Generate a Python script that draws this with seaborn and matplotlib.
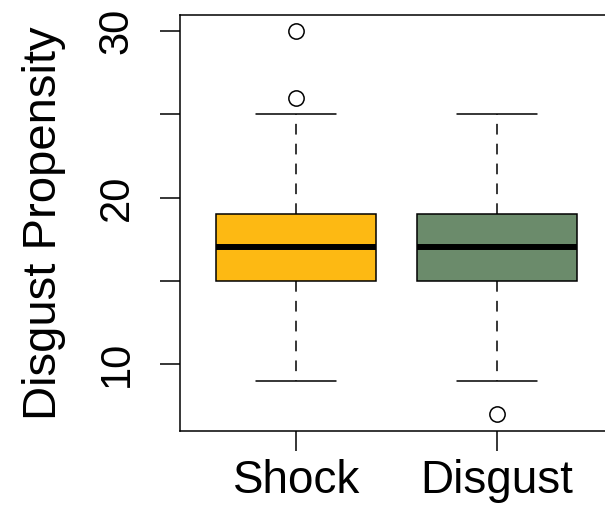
import pandas as pd
import numpy as np
import matplotlib.pyplot as plt
import seaborn as sns

# values (quartiles 15 / 17 / 19, whiskers 9-25)
groups = ["Shock", "Disgust"]
shock_scores = [9, 12, 14, 15, 15, 16, 16, 17, 17, 18, 18, 19, 19, 21, 25, 26, 30]
disgust_scores = [7, 9, 13, 15, 15, 16, 16, 17, 17, 17, 18, 18, 19, 20, 22, 24, 25]
box_colors = ["#FDB913", "#6B8B6B"]
y_ticks = [10, 15, 20, 25, 30]
y_ticklabels = ["10", "", "20", "", "30"]

df = pd.DataFrame({
    "group": [groups[0]] * len(shock_scores) + [groups[1]] * len(disgust_scores),
    "score": shock_scores + disgust_scores,
})

sns.set_style("white")
plt.rcParams["font.family"] = ["Liberation Sans", "DejaVu Sans"]
plt.rcParams["text.color"] = "black"
plt.rcParams["axes.labelcolor"] = "black"
plt.rcParams["xtick.color"] = "black"
plt.rcParams["ytick.color"] = "black"

fig = plt.figure(figsize=(6.05, 5.11), dpi=100)
ax = fig.add_axes([180 / 605, 80 / 511, 433 / 605, 416 / 511])

lw = 1.1
sns.boxplot(
    data=df, x="group", y="score", hue="group", order=groups, hue_order=groups,
    palette=box_colors, saturation=1, legend=False, width=0.8, linecolor="black",
    linewidth=lw, whis=1.5, ax=ax,
    boxprops={"edgecolor": "black", "linewidth": lw},
    medianprops={"color": "black", "linewidth": 4.3, "solid_capstyle": "butt"},
    whiskerprops={"color": "black", "linewidth": lw, "linestyle": (0, (7, 6))},
    capprops={"color": "black", "linewidth": lw, "linestyle": "-"},
    flierprops={"marker": "o", "markersize": 11, "markerfacecolor": "white",
                "markeredgecolor": "black", "markeredgewidth": lw},
)

ax.set_xlim(-0.58, 1.58)
ax.set_ylim(5.98, 30.96)
ax.set_yticks(y_ticks)
ax.set_yticklabels(y_ticklabels, rotation=90, va="center", fontsize=30)
ax.tick_params(axis="x", labelsize=33, length=14.4, width=lw, pad=6, bottom=True)
ax.tick_params(axis="y", length=14.4, width=lw, pad=17, left=True)
ax.set_xlabel("")
ax.set_ylabel("Disgust Propensity", fontsize=34, labelpad=22)
for sp in ax.spines.values():
    sp.set_visible(True)
    sp.set_color("black")
    sp.set_linewidth(lw)
ax.grid(False)

fig.savefig("out.png", dpi=100)
